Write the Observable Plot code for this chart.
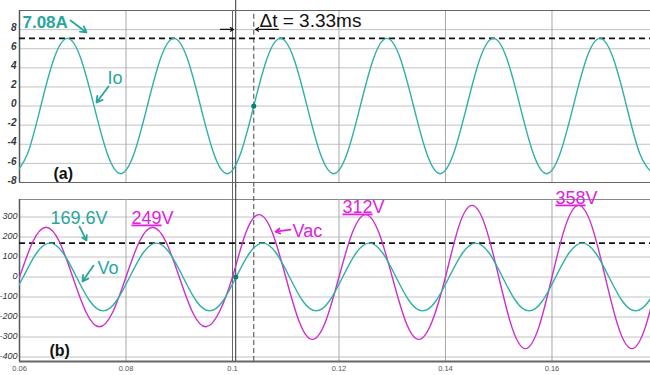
<!DOCTYPE html>
<html><head><meta charset="utf-8">
<script src="https://cdn.jsdelivr.net/npm/d3@7"></script>
<script src="https://cdn.jsdelivr.net/npm/@observablehq/plot@0.6"></script>
<style>body{margin:0;background:#fff;} svg{display:block;}</style>
</head><body><div id="chart"></div>
<script>
// ---- Data ----
const ioTime = [0.059,0.0615,0.064,0.0665,0.069,0.0715,0.074,0.0765,0.079,0.0815,0.084,0.0865,0.089,0.0915,0.094,0.0965,0.099,0.1015,0.104,0.1065,0.109,0.1115,0.114,0.1165,0.119,0.1215,0.124,0.1265,0.129,0.1315,0.134,0.1365,0.139,0.1415,0.144,0.1465,0.149,0.1515,0.154,0.1565,0.159,0.1615,0.164,0.1665,0.169,0.1715,0.174,0.1765,0.179];
const ioValue = [-7.08,-5.0,0,5.0,7.08,5.0,0,-5.0,-7.08,-5.0,0,5.0,7.08,5.0,0,-5.0,-7.08,-5.0,0,5.0,7.08,5.0,0,-5.0,-7.08,-5.0,0,5.0,7.08,5.0,0,-5.0,-7.08,-5.0,0,5.0,7.08,5.0,0,-5.0,-7.08,-5.0,0,5.0,7.08,5.0,0,-5.0,-7.08];

const voTime = [0.0582,0.0607,0.0632,0.0657,0.0682,0.0707,0.0732,0.0757,0.0782,0.0807,0.0832,0.0857,0.0882,0.0907,0.0932,0.0957,0.0982,0.1007,0.1032,0.1057,0.1082,0.1107,0.1132,0.1157,0.1182,0.1207,0.1232,0.1257,0.1282,0.1307,0.1332,0.1357,0.1382,0.1407,0.1432,0.1457,0.1482,0.1507,0.1532,0.1557,0.1582,0.1607,0.1632,0.1657,0.1682,0.1707,0.1732,0.1757,0.1782,0.1807];
const voValue = [-120,0,120,169.6,120,0,-120,-169.6,-120,0,120,169.6,120,0,-120,-169.6,-120,0,120,169.6,120,0,-120,-169.6,-120,0,120,169.6,120,0,-120,-169.6,-120,0,120,169.6,120,0,-120,-169.6,-120,0,120,169.6,120,0,-120,-169.6,-120,0];

const vacTime = [0.0575,0.06,0.0625,0.065,0.0675,0.07,0.0725,0.075,0.0775,0.08,0.0825,0.085,0.0875,0.09,0.0925,0.095,0.0975,0.1,0.1025,0.105,0.1075,0.11,0.1125,0.115,0.1175,0.12,0.1225,0.125,0.1275,0.13,0.1325,0.135,0.1375,0.14,0.1425,0.145,0.1475,0.15,0.1525,0.155,0.1575,0.16,0.1625,0.165,0.1675,0.17,0.1725,0.175,0.1775,0.18];
const vacValue = [-176,0,176,249,176,0,-176,-249,-176,0,176,249,176,0,-176,-249,-176,0,221,312,221,0,-221,-312,-221,0,221,312,221,0,-221,-312,-221,0,253,358,253,0,-253,-358,-253,0,253,358,253,0,-253,-358,-253,0];

const xTicks = [0.06,0.08,0.1,0.12,0.14,0.16];
const xTickLabels = ["0.06","0.08","0.1","0.12","0.14","0.16"];
const ioTicks = [8,6,4,2,0,-2,-4,-6,-8];
const ioTickLabels = ["8","6","4","2","0","-2","-4","-6","-8"];
const vTicks = [300,200,100,0,-100,-200,-300,-400];
const vTickLabels = ["300","200","100","0","-100","-200","-300","-400"];
const ioPeak = 7.08;
const voPeak = 169.6;
const gridT = 0.1;
const cursorT = 0.1006;
const ioZeroT = 0.104;

// ---- styling ----
const TEAL = "#2eb0a6", TEAL_TXT = "#27a69c", DOT = "#0c7d74", MAG = "#cc30cc", MAG_TXT = "#dd22dd";
const FONT = "Liberation Sans, Arial, sans-serif";
const X_DOMAIN = [0.06, 0.1785];

const io = ioTime.map((t, i) => ({t, v: ioValue[i]}));
const vo = voTime.map((t, i) => ({t, v: voValue[i]}));
const vac = vacTime.map((t, i) => ({t, v: vacValue[i]}));

const topPlot = Plot.plot({
  width: 650, height: 186,
  marginLeft: 19, marginRight: 0, marginTop: 10, marginBottom: 4,
  style: {fontFamily: FONT, background: "#fff", overflow: "visible"},
  x: {domain: X_DOMAIN, axis: null},
  y: {domain: [-8, 10], axis: null},
  marks: [
    Plot.ruleY(ioTicks.filter(d => d > -8), {stroke: "#c2c2c2"}),
    Plot.ruleX(xTicks.filter(d => d !== 0.06 && d !== gridT), {stroke: "#a8a8a8"}),
    Plot.ruleX([gridT], {y1: -8.5, y2: 10, stroke: "#666"}),
    Plot.ruleX([cursorT], {y1: -8.5, y2: 11.2, stroke: "#333"}),
    Plot.ruleX([ioZeroT], {y1: -8.5, y2: 10, stroke: "#444", strokeDasharray: "5,3"}),
    Plot.ruleY([10], {stroke: "#666"}),
    Plot.ruleY([-8], {stroke: "#666"}),
    Plot.ruleX([X_DOMAIN[0]], {stroke: "#555", strokeWidth: 1.5}),
    Plot.ruleY([ioPeak], {stroke: "#111", strokeWidth: 1.6, strokeDasharray: "6,4"}),
    Plot.line(io, {x: "t", y: "v", curve: "natural", stroke: TEAL, strokeWidth: 1.4, clip: true}),
    Plot.dot([{t: ioZeroT, v: 0}], {x: "t", y: "v", r: 2.6, fill: DOT}),
    Plot.text(ioTicks, {y: d => d, text: (d, i) => ioTickLabels[i], frameAnchor: "left", dx: -3, dy: -2, textAnchor: "end", fontStyle: "italic", fontWeight: "bold", fontSize: 10, fill: "#333"}),
    Plot.text([{t: 0.06056, v: 8.12}], {x: "t", y: "v", text: () => "7.08A", textAnchor: "start", lineAnchor: "bottom", fontWeight: "bold", fontSize: 17, fill: TEAL_TXT}),
    Plot.arrow([{x1: 0.06958, y1: 8.95, x2: 0.07258, y2: 7.7}], {x1: "x1", y1: "y1", x2: "x2", y2: "y2", stroke: TEAL_TXT, strokeWidth: 1.8, headLength: 7}),
    Plot.text([{t: 0.07653, v: 2.36}], {x: "t", y: "v", text: () => "Io", textAnchor: "start", lineAnchor: "bottom", fontSize: 18, fill: TEAL_TXT}),
    Plot.arrow([{x1: 0.07671, y1: 2.05, x2: 0.07446, y2: 0.38}], {x1: "x1", y1: "y1", x2: "x2", y2: "y2", stroke: TEAL_TXT, strokeWidth: 1.8, headLength: 7}),
    Plot.text([{t: 0.06638, v: -7.6}], {x: "t", y: "v", text: () => "(a)", textAnchor: "start", lineAnchor: "bottom", fontWeight: "bold", fontSize: 16, fill: "#111"}),
    Plot.text([{t: 0.10507, v: 8.23}], {x: "t", y: "v", text: () => "\u0394t = 3.33ms", textAnchor: "start", lineAnchor: "bottom", fontSize: 19, fill: "#111"}),
    Plot.arrow([{x1: 0.09775, y1: 8.02, x2: 0.10019, y2: 8.02}, {x1: 0.10864, y1: 8.02, x2: 0.10432, y2: 8.02}], {x1: "x1", y1: "y1", x2: "x2", y2: "y2", stroke: "#111", strokeWidth: 1.1, headLength: 5})
  ]
});

const bottomPlot = Plot.plot({
  width: 650, height: 189,
  marginLeft: 19, marginRight: 0, marginTop: 13, marginBottom: 14,
  style: {fontFamily: FONT, background: "#fff", overflow: "visible"},
  x: {domain: X_DOMAIN, axis: null},
  y: {domain: [-422.5, 387.5], axis: null},
  marks: [
    Plot.ruleY(vTicks, {stroke: "#c2c2c2"}),
    Plot.ruleY([387.5], {stroke: "#888"}),
    Plot.ruleX(xTicks.filter(d => d !== 0.06 && d !== gridT), {stroke: "#a8a8a8"}),
    Plot.ruleX([gridT], {y1: -422.5, y2: 455, stroke: "#666"}),
    Plot.ruleX([cursorT], {y1: -422.5, y2: 455, stroke: "#333"}),
    Plot.ruleX([ioZeroT], {y1: -422.5, y2: 455, stroke: "#444", strokeDasharray: "5,3"}),
    Plot.ruleY([-422.5], {stroke: "#666", strokeWidth: 2}),
    Plot.ruleX([X_DOMAIN[0]], {stroke: "#555", strokeWidth: 1.5}),
    Plot.ruleY([voPeak], {stroke: "#111", strokeWidth: 1.6, strokeDasharray: "6,4"}),
    Plot.line(vac, {x: "t", y: "v", curve: "natural", stroke: MAG, strokeWidth: 1.4, clip: true}),
    Plot.line(vo, {x: "t", y: "v", curve: "natural", stroke: TEAL, strokeWidth: 1.4, clip: true}),
    Plot.dot([{t: cursorT, v: 0}], {x: "t", y: "v", r: 2.6, fill: DOT}),
    Plot.text(vTicks, {y: d => d, text: (d, i) => vTickLabels[i], frameAnchor: "left", dx: -2, dy: -1, textAnchor: "end", fontStyle: "italic", fontSize: 9, fill: "#333"}),
    Plot.text(xTicks, {x: d => d, text: (d, i) => xTickLabels[i], frameAnchor: "bottom", dy: 9.5, fontSize: 7.5, fill: "#555"}),
    Plot.text([{t: 0.06582, v: 267.5}], {x: "t", y: "v", text: () => "169.6V", textAnchor: "start", lineAnchor: "bottom", fontSize: 18, fill: TEAL_TXT}),
    Plot.arrow([{x1: 0.07127, y1: 252, x2: 0.07258, y2: 183}], {x1: "x1", y1: "y1", x2: "x2", y2: "y2", stroke: TEAL_TXT, strokeWidth: 1.8, headLength: 7}),
    Plot.text([{t: 0.07465, v: 17.5}], {x: "t", y: "v", text: () => "Vo", textAnchor: "start", lineAnchor: "bottom", fontSize: 18, fill: TEAL_TXT}),
    Plot.arrow([{x1: 0.0739, y1: 57, x2: 0.07183, y2: -22}], {x1: "x1", y1: "y1", x2: "x2", y2: "y2", stroke: TEAL_TXT, strokeWidth: 1.8, headLength: 7}),
    Plot.text([{t: 0.08103, v: 267.5, s: "249V"}, {t: 0.12066, v: 322.5, s: "312V"}, {t: 0.16066, v: 367.5, s: "358V"}], {x: "t", y: "v", text: "s", textAnchor: "start", lineAnchor: "bottom", fontSize: 18, fill: MAG_TXT}),
    Plot.text([{t: 0.11127, v: 202.5}], {x: "t", y: "v", text: () => "Vac", textAnchor: "start", lineAnchor: "bottom", fontSize: 18, fill: MAG_TXT}),
    Plot.arrow([{x1: 0.11089, y1: 237, x2: 0.10808, y2: 227}], {x1: "x1", y1: "y1", x2: "x2", y2: "y2", stroke: MAG_TXT, strokeWidth: 1.8, headLength: 7}),
    Plot.text([{t: 0.06563, v: -392.5}], {x: "t", y: "v", text: () => "(b)", textAnchor: "start", lineAnchor: "bottom", fontWeight: "bold", fontSize: 16, fill: "#111"})
  ]
});

// underline the digits of the magenta peak labels
d3.select(bottomPlot).selectAll("text").each(function() {
  const s = this.textContent;
  if (/^\d{3}V$/.test(s)) {
    const sel = d3.select(this);
    sel.text(null);
    sel.append("tspan").attr("text-decoration", "underline").text(s.slice(0, 3));
    sel.append("tspan").text("V");
  }
});

const root = document.getElementById("chart");
root.append(topPlot, bottomPlot);
</script>
</body></html>
